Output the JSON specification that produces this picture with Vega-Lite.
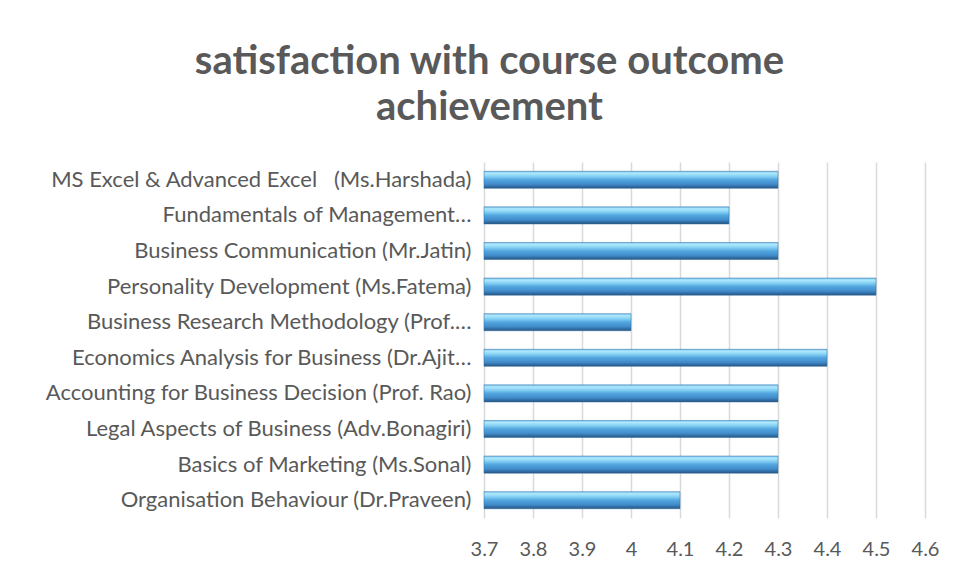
{
  "$schema": "https://vega.github.io/schema/vega-lite/v6.json",
  "autosize": {"type": "none"},
  "width": 441,
  "height": 356,
  "padding": {"left": 484, "top": 162, "right": 31, "bottom": 58},
  "background": "white",
  "config": {
    "view": {"stroke": null},
    "font": "Lato"
  },
  "title": {
    "text": ["satisfaction with course outcome", "achievement"],
    "font": "Lato",
    "fontSize": 40,
    "fontWeight": "bold",
    "color": "#595959",
    "lineHeight": 46,
    "anchor": "middle",
    "frame": "group",
    "dx": -215,
    "offset": 34
  },
  "data": {
    "values": [
      {"course": "MS Excel & Advanced Excel \u00a0 (Ms.Harshada)", "score": 4.3},
      {"course": "Fundamentals of Management…", "score": 4.2},
      {"course": "Business Communication (Mr.Jatin)", "score": 4.3},
      {"course": "Personality Development (Ms.Fatema)", "score": 4.5},
      {"course": "Business Research Methodology (Prof.…", "score": 4.0},
      {"course": "Economics Analysis for Business (Dr.Ajit…", "score": 4.4},
      {"course": "Accounting for Business Decision (Prof. Rao)", "score": 4.3},
      {"course": "Legal Aspects of Business (Adv.Bonagiri)", "score": 4.3},
      {"course": "Basics of Marketing (Ms.Sonal)", "score": 4.3},
      {"course": "Organisation Behaviour (Dr.Praveen)", "score": 4.1}
    ]
  },
  "mark": {
    "type": "bar",
    "color": {
      "x1": 0, "y1": 0, "x2": 0, "y2": 1,
      "gradient": "linear",
      "stops": [
        {"offset": 0, "color": "#78c3ee"},
        {"offset": 0.12, "color": "#aee8fc"},
        {"offset": 0.3, "color": "#84d0f4"},
        {"offset": 0.5, "color": "#52a5de"},
        {"offset": 0.75, "color": "#428dcc"},
        {"offset": 0.9, "color": "#306ca2"},
        {"offset": 1, "color": "#26527c"}
      ]
    },
    "stroke": "#306ca2",
    "strokeWidth": 0.5
  },
  "encoding": {
    "y": {
      "field": "course",
      "type": "nominal",
      "sort": null,
      "scale": {"paddingInner": 0.52, "paddingOuter": 0.26},
      "axis": {
        "title": null,
        "domain": false,
        "ticks": false,
        "grid": false,
        "labelFont": "Lato",
        "labelFontSize": 22,
        "labelColor": "#595959",
        "labelPadding": 13,
        "labelLimit": 600
      }
    },
    "x": {
      "field": "score",
      "type": "quantitative",
      "scale": {"domain": [3.7, 4.6], "zero": false, "nice": false},
      "axis": {
        "title": null,
        "values": [3.7, 3.8, 3.9, 4.0, 4.1, 4.2, 4.3, 4.4, 4.5, 4.6],
        "format": "~g",
        "domain": false,
        "ticks": false,
        "grid": true,
        "gridColor": "#d9d9d9",
        "gridWidth": 1.5,
        "labelFont": "Lato",
        "labelFontSize": 20,
        "labelColor": "#595959",
        "labelPadding": 21,
        "labelFlush": false
      }
    },
    "x2": {"datum": 3.7}
  }
}
